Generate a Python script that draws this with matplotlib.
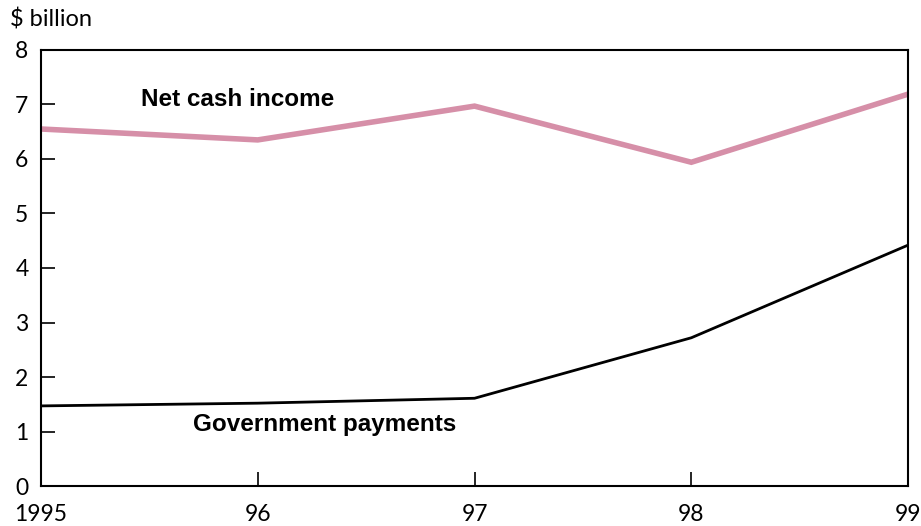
import matplotlib.pyplot as plt

years = [1995, 1996, 1997, 1998, 1999]
year_labels = ["1995", "96", "97", "98", "99"]
net_cash_income = [6.55, 6.35, 6.97, 5.94, 7.19]
government_payments = [1.47, 1.52, 1.61, 2.72, 4.42]


def main() -> None:
    plt.rcParams["font.family"] = ["Lato", "DejaVu Sans"]
    fig = plt.figure(figsize=(9.21, 5.26), dpi=100)
    ax = fig.add_axes([0.0445, 0.076, 0.9415, 0.829])

    ax.plot(years, net_cash_income, color="#d68fa8", lw=4, solid_joinstyle="miter")
    ax.plot(years, government_payments, color="black", lw=2)

    ax.set_xlim(1995, 1999)
    ax.set_ylim(0, 8)
    ax.set_xticks(years)
    ax.set_xticklabels(year_labels)
    ax.set_yticks(range(0, 9))
    ax.tick_params(axis="both", direction="in", length=10, width=1.2,
                   labelsize=16.5, colors="black")
    ax.tick_params(axis="x", pad=13)
    ax.tick_params(axis="y", pad=9)
    for s in ax.spines.values():
        s.set_linewidth(1.5)

    ax.text(1995.46, 7.1, "Net cash income", fontsize=17.5, fontweight="bold",
            family=["Liberation Sans"], va="center")
    ax.text(1995.7, 1.12, "Government payments", fontsize=17.5, fontweight="bold",
            family=["Liberation Sans"], va="center")
    fig.text(0.011, 0.962, "$ billion", fontsize=17, va="center")

    fig.savefig("out.png", dpi=100)


if __name__ == "__main__":
    main()
